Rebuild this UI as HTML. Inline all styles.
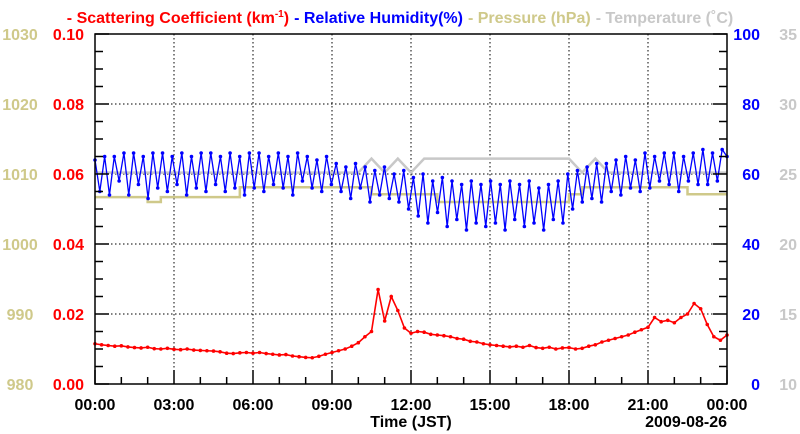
<!DOCTYPE html>
<html><head><meta charset="utf-8"><style>
body{margin:0;background:#fff;}
svg{display:block;font-family:"Liberation Sans",sans-serif;font-weight:bold;}
</style></head><body>
<svg id="chart" width="800" height="434">
<g id="grid"></g>
<g id="series"></g>
<g id="axes"></g>
<text x="400" y="23" text-anchor="middle" font-size="16"><tspan fill="#ff0000">- Scattering Coefficient (km<tspan font-size="10" dy="-6">-1</tspan><tspan dy="6">)</tspan></tspan><tspan fill="#0000ff" dx="5">- Relative Humidity(%)</tspan><tspan fill="#cfc98a" dx="5">- Pressure (hPa)</tspan><tspan fill="#c8c8c8" dx="5">- Temperature (˚C)</tspan></text>
<text x="411" y="427" text-anchor="middle" font-size="16">Time (JST)</text>
<text x="727" y="427" text-anchor="end" font-size="16">2009-08-26</text>
</svg>
<script>
const xTickLabels=["00:00","03:00","06:00","09:00","12:00","15:00","18:00","21:00","00:00"];
const scatTicks=["0.00","0.02","0.04","0.06","0.08","0.10"];
const presTicks=["980","990","1000","1010","1020","1030"];
const rhTicks=["0","20","40","60","80","100"];
const tempTicks=["10","15","20","25","30","35"];
const scattering=[.0115,.0112,.0110,.0108,.0109,.0106,.0104,.0103,.0105,.0101,.0100,.0102,.0099,
.0098,.0100,.0097,.0096,.0095,.0094,.0092,.0088,.0087,.0089,.0090,.0088,
.0090,.0087,.0085,.0083,.0084,.0080,.0078,.0076,.0075,.0079,.0085,.0090,
.0095,.0100,.0108,.0118,.0135,.0150,.0270,.0180,.0250,.0210,.0160,.0145,
.0150,.0148,.0142,.0140,.0138,.0135,.0130,.0128,.0122,.0120,.0115,.0112,
.0110,.0108,.0106,.0108,.0105,.0110,.0104,.0102,.0105,.0100,.0103,.0104,
.0100,.0102,.0108,.0112,.0120,.0125,.0130,.0135,.0140,.0148,.0155,.0162,
.0190,.0178,.0182,.0175,.0190,.0200,.0230,.0215,.0170,.0135,.0125,.0140];
const humidity=[64,55,65,54,65,58,66,54,66,57,65,53,66,56,66,55,65,57,66,54,65,56,66,55,66,57,65,55,66,56,65,54,66,56,
66,55,65,57,66,56,65,54,66,58,65,56,64,55,65,57,
63,55,62,53,63,56,62,52,61,54,62,53,60,52,61,50,
59,48,60,46,58,49,59,45,58,47,57,44,58,46,57,45,
58,46,57,44,58,47,57,45,58,46,56,44,57,47,58,46,
60,50,61,52,62,53,63,52,63,55,64,54,65,56,64,55,
66,56,65,58,66,57,66,55,65,58,66,57,67,57,66,58,67,65];
const pressure=[1006.7,1006.7,1006.7,1006.7,1006.0,1006.7,1006.7,1006.7,1006.7,1006.7,1006.7,
1008.1,1008.1,1008.1,1008.1,1008.1,1008.1,1008.1,1008.1,1008.1,1008.1,
1007.1,1007.1,1007.1,1007.1,1007.1,
1006.0,1006.0,1006.0,1006.0,1006.0,1006.0,1006.0,1006.0,1006.0,1006.0,
1007.1,1008.1,1008.1,1008.1,1008.1,1008.1,1008.1,1008.1,1008.1,1007.1,1007.1,1007.1,1007.1];
const temperature=[25.1,25.1,25.1,25.1,25.1,25.1,25.1,25.1,25.1,25.1,25.1,25.1,25.1,25.1,25.1,25.1,25.1,25.1,25.1,25.1,25.1,
26.1,25.1,26.1,25.1,26.1,26.1,26.1,26.1,26.1,26.1,26.1,26.1,26.1,26.1,26.1,26.1,
25.1,26.1,25.1,25.1,25.1,25.1,25.1,25.1,25.1,25.1,25.1,25.1];

const L=95,R=727,T=34,B=384,NS="http://www.w3.org/2000/svg";
const xH=h=>L+(R-L)*h/24;
const yS=v=>B-(B-T)*v/0.10;
const yP=v=>B-(B-T)*(v-980)/50;
const yRH=v=>B-(B-T)*v/100;
const yT=v=>B-(B-T)*(v-10)/25;
function mk(tag,attrs,parent){const e=document.createElementNS(NS,tag);for(const k in attrs)e.setAttribute(k,attrs[k]);parent.appendChild(e);return e;}
const grid=document.getElementById('grid'),axes=document.getElementById('axes'),ser=document.getElementById('series');
for(let i=1;i<8;i++){const g=mk('line',{x1:xH(i*3),x2:xH(i*3),y1:T,y2:B,stroke:'#000','stroke-dasharray':'1.5,2.5','stroke-width':1},grid);

}
for(let i=1;i<5;i++){const g=mk('line',{x1:L,x2:R,y1:yS(i*0.02),y2:yS(i*0.02),stroke:'#000','stroke-dasharray':'1.5,2.5','stroke-width':1},grid);

}
function poly(vals,xf,yf,color,name,step,marks,w){
  let pts=[];vals.forEach((v,i)=>{const x=xf(i),y=yf(v);if(step&&i>0){pts.push([x,yf(vals[i-1])]);}pts.push([x,y]);});
  if(step)pts.push([R,yf(vals[vals.length-1])]);
  const p=mk('polyline',{points:pts.map(p=>p.join(',')).join(' '),fill:'none',stroke:color,'stroke-width':w},ser);
  
  
  if(marks)vals.forEach((v,i)=>{const c=mk('circle',{cx:xf(i),cy:yf(v),r:1.8,fill:color},ser);
    
    });
}
poly(temperature,i=>xH(i*24/(temperature.length-1)),yT,'#c8c8c8','temperature-line',false,false,2.5);
poly(pressure,i=>xH(i*24/(pressure.length-1)),yP,'#cfc98a','pressure-line',true,false,2.5);
poly(humidity,i=>xH(i*24/(humidity.length-1)),yRH,'#0000ff','humidity-line',false,true,1.3);
poly(scattering,i=>xH(i*24/(scattering.length-1)),yS,'#ff0000','scattering-line',false,true,1.6);
const f=mk('rect',{x:L,y:T,width:R-L,height:B-T,fill:'none',stroke:'#000','stroke-width':1.5},axes);


for(let k=0;k<=20;k++){const y=B-(B-T)*k/20,len=k%4==0?14:8;
  const a=mk('line',{x1:L,x2:L+len,y1:y,y2:y,stroke:'#000','stroke-width':1.5},axes);
  
  
  const b=mk('line',{x1:R-len,x2:R,y1:y,y2:y,stroke:'#000','stroke-width':1.5},axes);
  
  }
for(let h=0;h<=24;h++){const len=h%3==0?14:7;
  const t=mk('line',{x1:xH(h),x2:xH(h),y1:B-len,y2:B,stroke:'#000','stroke-width':1.5},axes);
  
  }
function txt(s,x,y,anchor,color,name){const e=mk('text',{x:x,y:y,'text-anchor':anchor,fill:color,'font-size':16},axes);e.textContent=s;
  
  }
xTickLabels.forEach((s,i)=>txt(s,xH(i*3),410,'middle','#000','x-tick-label'));
scatTicks.forEach((s,i)=>txt(s,84,B-(B-T)*i/5+6,'end','#ff0000','scattering-tick-label'));
presTicks.forEach((s,i)=>txt(s,20,B-(B-T)*i/5+6,'middle','#cfc98a','pressure-tick-label'));
rhTicks.forEach((s,i)=>txt(s,760,B-(B-T)*i/5+6,'end','#0000ff','humidity-tick-label'));
tempTicks.forEach((s,i)=>txt(s,797,B-(B-T)*i/5+6,'end','#c8c8c8','temperature-tick-label'));
</script>
</body></html>
